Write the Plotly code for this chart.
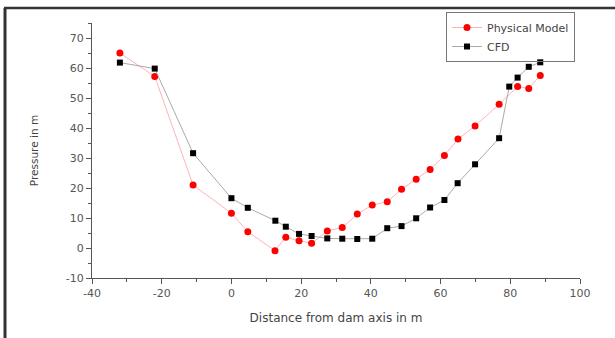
import plotly.graph_objects as go

phys_x = [-32, -22, -11, 0, 4.7, 12.5, 15.6, 19.4, 23, 27.5, 31.8, 36.1, 40.4, 44.7,
          48.8, 53, 57, 61.1, 65, 69.9, 76.8, 82.1, 85.3, 88.6]
phys_y = [65, 57.2, 21, 11.6, 5.4, -0.9, 3.6, 2.4, 1.6, 5.7, 6.8, 11.3, 14.3, 15.4,
          19.6, 22.9, 26.2, 30.8, 36.3, 40.7, 47.9, 53.8, 53.2, 57.5]

cfd_x = [-32, -22, -11, 0, 4.7, 12.6, 15.6, 19.4, 23, 27.5, 31.8, 36.1, 40.4, 44.7,
         48.8, 53, 57, 61.1, 64.9, 69.9, 76.8, 79.7, 82.1, 85.3, 88.6]
cfd_y = [61.8, 59.8, 31.6, 16.6, 13.4, 9.1, 7.1, 4.7, 4.0, 3.2, 3.1, 3.0, 3.1, 6.6,
         7.3, 9.9, 13.5, 16.0, 21.6, 27.9, 36.6, 53.8, 56.8, 60.4, 61.9]

x_ticks = [-40, -20, 0, 20, 40, 60, 80, 100]
x_labels = ["-40", "-20", "0", "20", "40", "60", "80", "100"]
y_ticks = [-10, 0, 10, 20, 30, 40, 50, 60, 70]
y_labels = ["-10", "0", "10", "20", "30", "40", "50", "60", "70"]

FONT = "DejaVu Sans"

fig = go.Figure()
fig.add_trace(go.Scatter(
    x=phys_x, y=phys_y, mode="lines+markers", name="Physical Model",
    line=dict(color="#f5a3a3", width=0.8),
    marker=dict(color="#ff0000", symbol="circle", size=7)))
fig.add_trace(go.Scatter(
    x=cfd_x, y=cfd_y, mode="lines+markers", name="CFD",
    line=dict(color="#a0a0a0", width=0.9),
    marker=dict(color="#000000", symbol="square", size=6)))

axis_common = dict(
    showgrid=False, zeroline=False, showline=True, linecolor="#555555", linewidth=1,
    ticks="outside", ticklen=5, tickcolor="#555555", tickwidth=1,
    tickfont=dict(family=FONT, size=11, color="#555555"),
    mirror=False,
)
fig.update_xaxes(range=[-40, 100], tickmode="array", tickvals=x_ticks, ticktext=x_labels,
                 minor=dict(dtick=10, tick0=-40, ticks="outside", ticklen=3, tickcolor="#555555"),
                 title=dict(text="Distance from dam axis in m",
                            font=dict(family=FONT, size=12, color="#444444"),
                            standoff=14),
                 **axis_common)
fig.update_yaxes(range=[-10, 75], tickmode="array", tickvals=y_ticks, ticktext=y_labels,
                 minor=dict(dtick=5, tick0=-10, ticks="outside", ticklen=3, tickcolor="#555555"),
                 title=dict(text="Pressure in m",
                            font=dict(family=FONT, size=10.5, color="#444444"),
                            standoff=25),
                 **axis_common)

L, R, T, B = 92, 35, 23, 60
W, H = 615, 338
pw, ph = W - L - R, H - T - B
def px(xp):
    return (xp - L) / pw
def py(yp):
    return 1 - (yp - T) / ph

fig.add_shape(type="line", xref="paper", yref="paper",
              x0=px(5), x1=px(5), y0=py(8), y1=py(340),
              line=dict(color="#333333", width=3))
fig.add_shape(type="line", xref="paper", yref="paper",
              x0=px(4), x1=px(616), y0=py(8), y1=py(8),
              line=dict(color="#333333", width=2.5))

fig.update_layout(
    width=W, height=H, margin=dict(l=L, r=R, t=T, b=B),
    paper_bgcolor="white", plot_bgcolor="white",
    showlegend=True,
    legend=dict(x=px(446), y=py(12), xanchor="left", yanchor="top",
                bordercolor="#777777", borderwidth=1, bgcolor="rgba(255,255,255,0)",
                font=dict(family=FONT, size=11, color="#444444"),
                tracegroupgap=0, itemwidth=30),
)

fig.write_html("out.html")
